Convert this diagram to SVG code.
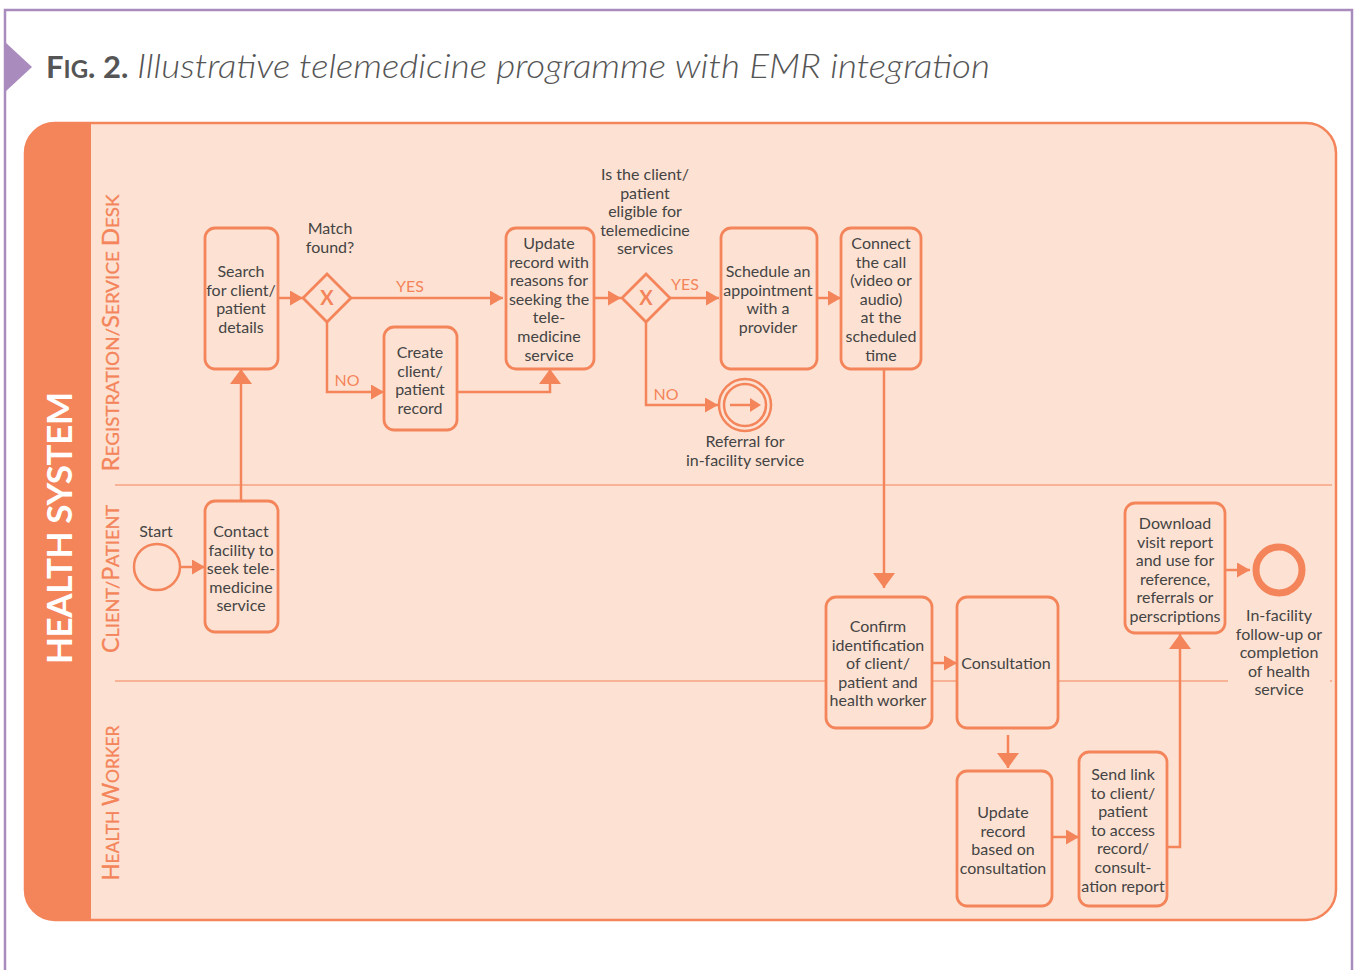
<svg xmlns="http://www.w3.org/2000/svg" width="1357" height="970" viewBox="0 0 1357 970">
<defs>
<style>
.frame{fill:none;stroke:#A98BBE;stroke-width:2.5}
.box{fill:#FDE2D3;stroke:#F4845A;stroke-width:2.8}
.ln{fill:none;stroke:#F4845A;stroke-width:2.5}
.lane{stroke:#F4845A;stroke-width:1.2}
.t{font-family:Lato,"Open Sans","Liberation Sans",sans-serif;font-size:16px;fill:#444;text-anchor:middle}
.lbl{font-family:Lato,"Open Sans","Liberation Sans",sans-serif;font-size:16px;fill:#F4845A;text-anchor:middle}
.lanet{font-family:Lato,"Open Sans","Liberation Sans",sans-serif;font-size:18px;fill:#F4845A;text-anchor:middle;stroke:#F4845A;stroke-width:0.3}
.gx{font-family:Lato,"Liberation Sans",sans-serif;font-size:20px;font-weight:bold;fill:#F4845A;text-anchor:middle}
</style>
<marker id="ah" viewBox="0 0 13 15" refX="13" refY="7.5" markerWidth="13" markerHeight="15" markerUnits="userSpaceOnUse" orient="auto">
<path d="M0,0 L13,7.5 L0,15 Z" fill="#F4845A"/>
</marker>
<marker id="av" viewBox="0 0 15 22" refX="15" refY="11" markerWidth="15" markerHeight="22" markerUnits="userSpaceOnUse" orient="auto">
<path d="M0,0 L15,11 L0,22 Z" fill="#F4845A"/>
</marker>
</defs>

<g id="frame">
<path class="frame" d="M5,970 V10 H1352 V970"/>
<path d="M5,42 L32,67 L5,92 Z" fill="#A98BBE"/>
<text x="46" y="78" font-family="Lato,'Open Sans','Liberation Sans',sans-serif" font-weight="bold" fill="#555" font-size="31">F<tspan font-size="24">IG</tspan>. 2.</text>
<text x="137" y="78" font-family="Lato,'Open Sans','Liberation Sans',sans-serif" font-style="italic" font-weight="300" fill="#555" font-size="34" textLength="853" lengthAdjust="spacingAndGlyphs">Illustrative telemedicine programme with EMR integration</text>
</g>

<g id="pool">
<rect x="25" y="123" width="1311" height="797" rx="30" fill="#FDE2D3" stroke="#F4845A" stroke-width="2.5"/>
<path d="M91,123 H55 A30,30 0 0 0 25,153 V890 A30,30 0 0 0 55,920 H91 Z" fill="#F4845A"/>
<text transform="translate(72,528) rotate(-90)" font-family="Lato,'Open Sans','Liberation Sans',sans-serif" font-weight="bold" font-size="35" fill="#fff" text-anchor="middle" textLength="272" lengthAdjust="spacing">HEALTH SYSTEM</text>
<line class="lane" x1="115" y1="485" x2="1332" y2="485"/>
<line class="lane" x1="115" y1="681" x2="1228" y2="681"/>
<line class="lane" x1="1330" y1="681" x2="1332" y2="681"/>
<text class="lanet" transform="translate(119,333) rotate(-90)" textLength="277" lengthAdjust="spacingAndGlyphs"><tspan font-size="23">R</tspan>EGISTRATION/<tspan font-size="23">S</tspan>ERVICE <tspan font-size="23">D</tspan>ESK</text>
<text class="lanet" transform="translate(119,579) rotate(-90)" textLength="148" lengthAdjust="spacingAndGlyphs"><tspan font-size="23">C</tspan>LIENT/<tspan font-size="23">P</tspan>ATIENT</text>
<text class="lanet" transform="translate(119,803) rotate(-90)" textLength="155" lengthAdjust="spacingAndGlyphs"><tspan font-size="23">H</tspan>EALTH <tspan font-size="23">W</tspan>ORKER</text>
</g>

<g id="connectors">
<line class="ln" x1="180" y1="567" x2="205" y2="567" marker-end="url(#ah)"/>
<line class="ln" x1="241" y1="501" x2="241" y2="369" marker-end="url(#av)"/>
<line class="ln" x1="278" y1="298" x2="303" y2="298" marker-end="url(#ah)"/>
<line class="ln" x1="351" y1="298" x2="503" y2="298" marker-end="url(#ah)"/>
<text class="lbl" x="410" y="292">YES</text>
<polyline class="ln" points="327,322 327,392 384,392" marker-end="url(#ah)"/>
<text class="lbl" x="347" y="386">NO</text>
<polyline class="ln" points="457,392 550,392 550,369" marker-end="url(#av)"/>
<line class="ln" x1="594" y1="298" x2="621" y2="298" marker-end="url(#ah)"/>
<line class="ln" x1="670" y1="298" x2="719" y2="298" marker-end="url(#ah)"/>
<text class="lbl" x="685" y="290">YES</text>
<polyline class="ln" points="646,322 646,405 718,405" marker-end="url(#ah)"/>
<text class="lbl" x="666" y="400">NO</text>
<line class="ln" x1="817" y1="298" x2="841" y2="298" marker-end="url(#ah)"/>
<line class="ln" x1="884" y1="369" x2="884" y2="588" marker-end="url(#av)"/>
<line class="ln" x1="932" y1="663" x2="957" y2="663" marker-end="url(#ah)"/>
<line class="ln" x1="1008" y1="735" x2="1008" y2="768" marker-end="url(#av)"/>
<line class="ln" x1="1052" y1="837" x2="1079" y2="837" marker-end="url(#ah)"/>
<polyline class="ln" points="1167,847 1180,847 1180,634" marker-end="url(#av)"/>
<line class="ln" x1="1225" y1="570" x2="1250" y2="570" marker-end="url(#ah)"/>
</g>

<g id="start">
<circle cx="157" cy="567" r="23" fill="#FDE2D3" stroke="#F4845A" stroke-width="2.5"/>
<text class="t" x="156" y="537">Start</text>
</g>

<g id="contact">
<rect class="box" x="205" y="501" width="73" height="131" rx="10"/>
<text class="t" x="241" y="537">Contact<tspan x="241" dy="18.6">facility to</tspan><tspan x="241" dy="18.6">seek tele-</tspan><tspan x="241" dy="18.6">medicine</tspan><tspan x="241" dy="18.6">service</tspan></text>
</g>

<g id="search">
<rect class="box" x="205" y="228" width="73" height="141" rx="10"/>
<text class="t" x="241" y="277">Search<tspan x="241" dy="18.6">for client/</tspan><tspan x="241" dy="18.6">patient</tspan><tspan x="241" dy="18.6">details</tspan></text>
</g>

<g id="gateway1">
<path d="M327,274 L351,298 L327,322 L303,298 Z" fill="#FDE2D3" stroke="#F4845A" stroke-width="2.8"/>
<text class="gx" x="327" y="305">X</text>
<text class="t" x="330" y="234">Match<tspan x="330" dy="18.6">found?</tspan></text>
</g>

<g id="create">
<rect class="box" x="384" y="327" width="73" height="103" rx="10"/>
<text class="t" x="420" y="358">Create<tspan x="420" dy="18.6">client/</tspan><tspan x="420" dy="18.6">patient</tspan><tspan x="420" dy="18.6">record</tspan></text>
</g>

<g id="update1">
<rect class="box" x="506" y="228" width="88" height="141" rx="10"/>
<text class="t" x="549" y="249">Update<tspan x="549" dy="18.6">record with</tspan><tspan x="549" dy="18.6">reasons for</tspan><tspan x="549" dy="18.6">seeking the</tspan><tspan x="549" dy="18.6">tele-</tspan><tspan x="549" dy="18.6">medicine</tspan><tspan x="549" dy="18.6">service</tspan></text>
</g>

<g id="gateway2">
<path d="M646,274 L670,298 L646,322 L622,298 Z" fill="#FDE2D3" stroke="#F4845A" stroke-width="2.8"/>
<text class="gx" x="646" y="305">X</text>
<text class="t" x="645" y="180">Is the client/<tspan x="645" dy="18.6">patient</tspan><tspan x="645" dy="18.6">eligible for</tspan><tspan x="645" dy="18.6">telemedicine</tspan><tspan x="645" dy="18.6">services</tspan></text>
</g>

<g id="schedule">
<rect class="box" x="721" y="228" width="96" height="141" rx="10"/>
<text class="t" x="768" y="277">Schedule an<tspan x="768" dy="18.6">appointment</tspan><tspan x="768" dy="18.6">with a</tspan><tspan x="768" dy="18.6">provider</tspan></text>
</g>

<g id="connect">
<rect class="box" x="841" y="228" width="80" height="141" rx="10"/>
<text class="t" x="881" y="249">Connect<tspan x="881" dy="18.6">the call</tspan><tspan x="881" dy="18.6">(video or</tspan><tspan x="881" dy="18.6">audio)</tspan><tspan x="881" dy="18.6">at the</tspan><tspan x="881" dy="18.6">scheduled</tspan><tspan x="881" dy="18.6">time</tspan></text>
</g>

<g id="referral">
<circle cx="745" cy="405" r="26" fill="#FDE2D3" stroke="#F4845A" stroke-width="2.5"/>
<circle cx="745" cy="405" r="21" fill="none" stroke="#F4845A" stroke-width="2.5"/>
<line x1="730" y1="405" x2="752" y2="405" stroke="#F4845A" stroke-width="2.5"/>
<path d="M750,398 L761,405 L750,412 Z" fill="#F4845A"/>
<text class="t" x="745" y="447">Referral for<tspan x="745" dy="18.6">in-facility service</tspan></text>
</g>

<g id="confirm">
<rect class="box" x="826" y="597" width="106" height="131" rx="10"/>
<text class="t" x="878" y="632">Confirm<tspan x="878" dy="18.6">identification</tspan><tspan x="878" dy="18.6">of client/</tspan><tspan x="878" dy="18.6">patient and</tspan><tspan x="878" dy="18.6">health worker</tspan></text>
</g>

<g id="consultation">
<rect class="box" x="957" y="597" width="101" height="131" rx="10"/>
<text class="t" x="1006" y="669">Consultation</text>
</g>

<g id="update2">
<rect class="box" x="957" y="771" width="95" height="135" rx="10"/>
<text class="t" x="1003" y="818">Update<tspan x="1003" dy="18.6">record</tspan><tspan x="1003" dy="18.6">based on</tspan><tspan x="1003" dy="18.6">consultation</tspan></text>
</g>

<g id="sendlink">
<rect class="box" x="1079" y="752" width="88" height="154" rx="10"/>
<text class="t" x="1123" y="780">Send link<tspan x="1123" dy="18.6">to client/</tspan><tspan x="1123" dy="18.6">patient</tspan><tspan x="1123" dy="18.6">to access</tspan><tspan x="1123" dy="18.6">record/</tspan><tspan x="1123" dy="18.6">consult-</tspan><tspan x="1123" dy="18.6">ation report</tspan></text>
</g>

<g id="download">
<rect class="box" x="1125" y="503" width="100" height="130" rx="10"/>
<text class="t" x="1175" y="529">Download<tspan x="1175" dy="18.6">visit report</tspan><tspan x="1175" dy="18.6">and use for</tspan><tspan x="1175" dy="18.6">reference,</tspan><tspan x="1175" dy="18.6">referrals or</tspan><tspan x="1175" dy="18.6">perscriptions</tspan></text>
</g>

<g id="end">
<circle cx="1279" cy="570" r="23" fill="#FDE2D3" stroke="#F4845A" stroke-width="7"/>
<text class="t" x="1279" y="621">In-facility<tspan x="1279" dy="18.6">follow-up or</tspan><tspan x="1279" dy="18.6">completion</tspan><tspan x="1279" dy="18.6">of health</tspan><tspan x="1279" dy="18.6">service</tspan></text>
</g>
</svg>
